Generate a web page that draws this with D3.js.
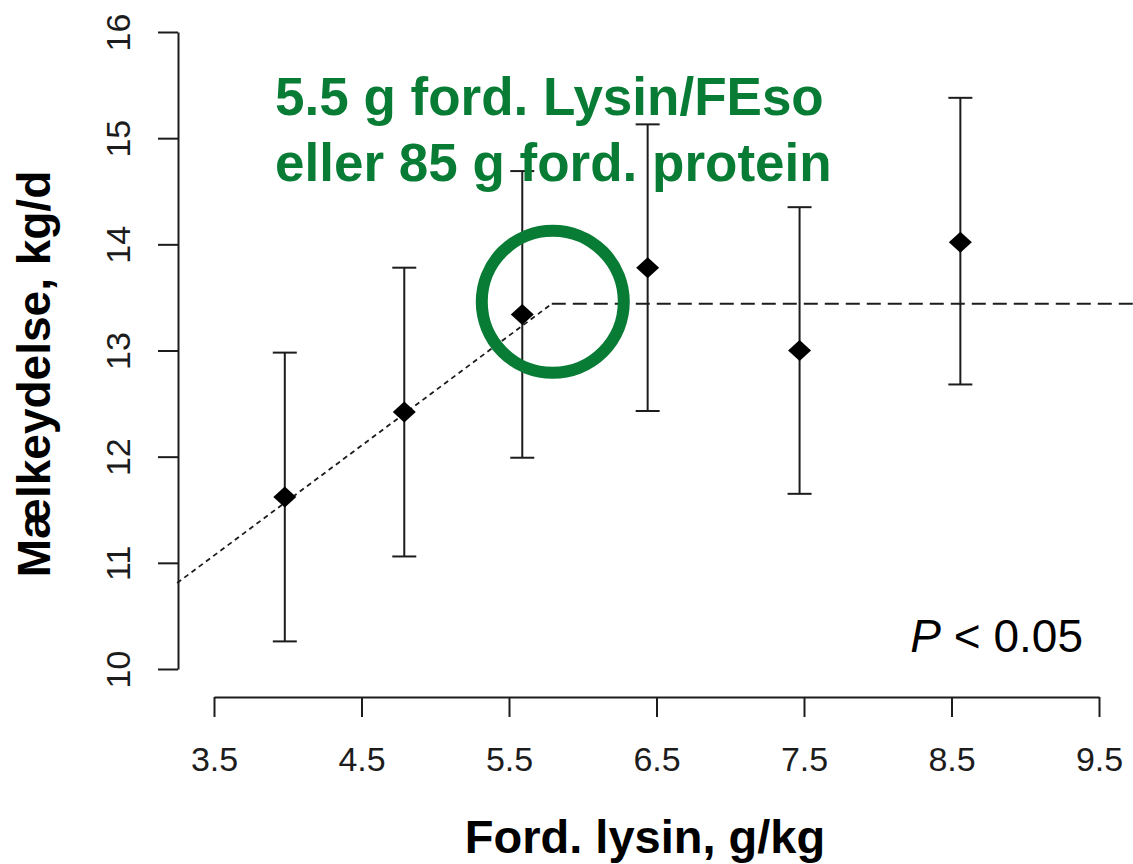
<!DOCTYPE html>
<html>
<head>
<meta charset="utf-8">
<script src="https://cdn.jsdelivr.net/npm/d3@7"></script>
<style>
  html, body { margin: 0; padding: 0; background: #fff; }
  svg { display: block; }
  text { font-family: "Liberation Sans", Arial, sans-serif; }
</style>
</head>
<body>
<svg id="chart" width="1133" height="864"></svg>
<script>
// Lysine level (g/kg) and mean milk yield (kg/d) with error bar limits
const lysin   = [3.98, 4.79, 5.59, 6.44, 7.47, 8.56];
const yieldKg = [11.62, 12.42, 13.34, 13.78, 13.00, 14.02];
const upper   = [12.98, 13.78, 14.69, 15.13, 14.35, 15.38];
const lower   = [10.26, 11.06, 11.99, 12.43, 11.65, 12.68];

// Broken-line (linear plateau) fit: start, breakpoint, plateau end
const fitX = [3.25, 5.79, 9.75];
const fitY = [10.81, 13.44, 13.44];

const xTicks = [3.5, 4.5, 5.5, 6.5, 7.5, 8.5, 9.5];
const yTicks = [10, 11, 12, 13, 14, 15, 16];

const svg = d3.select("#chart");
const ink = "#1c1c1c";
const green = "#087c35";

const x = d3.scaleLinear().domain([3.5, 9.5]).range([214, 1099]);
const y = d3.scaleLinear().domain([10, 16]).range([669, 32]);

// Y axis (detached, R style) with rotated labels
const yAxisG = svg.append("g")
  .attr("transform", "translate(178,0)")
  .call(d3.axisLeft(y).tickValues(yTicks).tickSize(20).tickSizeOuter(0).tickFormat(d3.format("d")));
yAxisG.select(".domain").attr("stroke", ink).attr("stroke-width", 2);
yAxisG.selectAll(".tick line").attr("stroke", ink).attr("stroke-width", 2);
yAxisG.selectAll(".tick text")
  .attr("transform", "rotate(-90)")
  .attr("x", 0).attr("y", -48).attr("dy", null)
  .attr("text-anchor", "middle")
  .attr("font-size", 34)
  .attr("font-family", "'Liberation Sans', Arial, sans-serif")
  .attr("fill", ink);

// X axis
const xAxisG = svg.append("g")
  .attr("transform", "translate(0,697)")
  .call(d3.axisBottom(x).tickValues(xTicks).tickSize(20).tickSizeOuter(0).tickFormat(d3.format(".1f")));
xAxisG.select(".domain").attr("stroke", ink).attr("stroke-width", 2);
xAxisG.selectAll(".tick line").attr("stroke", ink).attr("stroke-width", 2);
xAxisG.selectAll(".tick text")
  .attr("y", 74).attr("dy", null)
  .attr("font-size", 34)
  .attr("font-family", "'Liberation Sans', Arial, sans-serif")
  .attr("fill", ink);

// Fitted broken line: dotted rising part, dashed plateau
const fitPts = fitX.map((v, i) => [x(v), y(fitY[i])]);
svg.append("line")
  .attr("x1", fitPts[0][0]).attr("y1", fitPts[0][1])
  .attr("x2", fitPts[1][0]).attr("y2", fitPts[1][1])
  .attr("stroke", ink).attr("stroke-width", 1.8)
  .attr("stroke-dasharray", "5,4");
svg.append("line")
  .attr("x1", fitPts[1][0]).attr("y1", fitPts[1][1])
  .attr("x2", fitPts[2][0]).attr("y2", fitPts[2][1])
  .attr("stroke", ink).attr("stroke-width", 2)
  .attr("stroke-dasharray", "14,7");

// Error bars
const bars = svg.append("g").attr("stroke", ink).attr("stroke-width", 2);
lysin.forEach((v, i) => {
  const cx = x(v);
  bars.append("line").attr("x1", cx).attr("x2", cx).attr("y1", y(upper[i])).attr("y2", y(lower[i]));
  bars.append("line").attr("x1", cx - 12).attr("x2", cx + 12).attr("y1", y(upper[i])).attr("y2", y(upper[i]));
  bars.append("line").attr("x1", cx - 12).attr("x2", cx + 12).attr("y1", y(lower[i])).attr("y2", y(lower[i]));
});

// Mean markers (filled diamonds)
svg.append("g").selectAll("path")
  .data(lysin)
  .join("path")
  .attr("transform", (d, i) => `translate(${x(d)},${y(yieldKg[i])})`)
  .attr("d", "M0,-10.5L11.5,0L0,10.5L-11.5,0Z")
  .attr("fill", "#000");

// Circle around the breakpoint
svg.append("circle")
  .attr("cx", x(fitX[1]) + 1)
  .attr("cy", y(fitY[1]) - 2)
  .attr("r", 71)
  .attr("fill", "none")
  .attr("stroke", green)
  .attr("stroke-width", 12);

// Annotation text
const note = svg.append("text")
  .attr("font-size", 53).attr("font-weight", "bold").attr("fill", green);
note.append("tspan").attr("x", 275).attr("y", 115).text("5.5 g ford. Lysin/FEso");
note.append("tspan").attr("x", 275).attr("y", 181).text("eller 85 g ford. protein");

// Significance
const p = svg.append("text")
  .attr("x", 1083).attr("y", 652)
  .attr("text-anchor", "end")
  .attr("font-size", 46).attr("fill", "#000");
p.append("tspan").attr("font-style", "italic").text("P");
p.append("tspan").text(" < 0.05");

// Axis titles
svg.append("text")
  .attr("transform", "translate(50,374) rotate(-90)")
  .attr("text-anchor", "middle")
  .attr("font-size", 46).attr("font-weight", "bold").attr("fill", "#000")
  .text("Mælkeydelse, kg/d");

svg.append("text")
  .attr("x", 645).attr("y", 853)
  .attr("text-anchor", "middle")
  .attr("font-size", 47).attr("font-weight", "bold").attr("fill", "#000")
  .text("Ford. lysin, g/kg");
</script>
</body>
</html>
